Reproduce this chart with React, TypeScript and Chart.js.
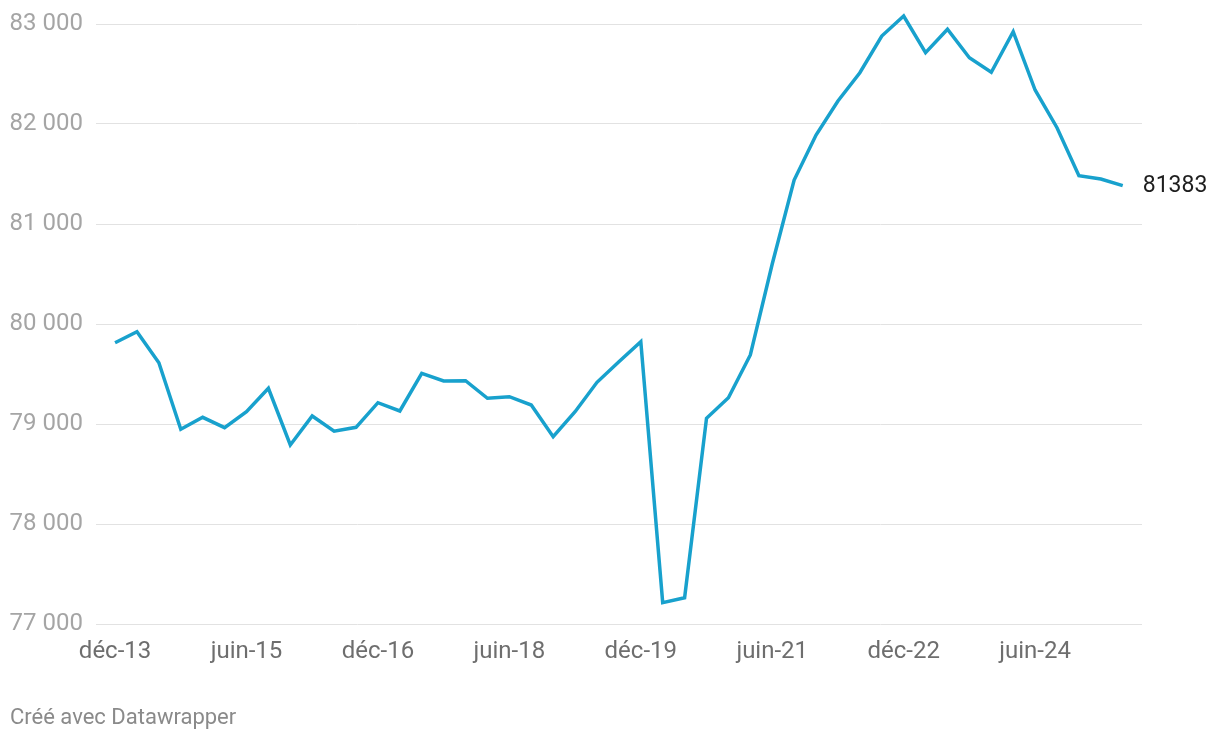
import React, { useEffect, useRef } from "react";
import { Chart, registerables } from "chart.js";

Chart.register(...registerables);

const quarters: string[] = [
  "déc-13", "mars-14", "juin-14", "sept-14",
  "déc-14", "mars-15", "juin-15", "sept-15",
  "déc-15", "mars-16", "juin-16", "sept-16",
  "déc-16", "mars-17", "juin-17", "sept-17",
  "déc-17", "mars-18", "juin-18", "sept-18",
  "déc-18", "mars-19", "juin-19", "sept-19",
  "déc-19", "mars-20", "juin-20", "sept-20",
  "déc-20", "mars-21", "juin-21", "sept-21",
  "déc-21", "mars-22", "juin-22", "sept-22",
  "déc-22", "mars-23", "juin-23", "sept-23",
  "déc-23", "mars-24", "juin-24", "sept-24",
  "déc-24", "mars-25", "juin-25",
];

const values: number[] = [
  79813, 79923, 79613, 78947,
  79067, 78963, 79123, 79357,
  78790, 79080, 78928, 78967,
  79213, 79130, 79507, 79430,
  79433, 79257, 79273, 79190,
  78873, 79123, 79417, 79623,
  79823, 77213, 77263, 79057,
  79263, 79690, 80600, 81440,
  81890, 82230, 82513, 82880,
  83080, 82713, 82947, 82663,
  82517, 82923, 82340, 81963,
  81483, 81450, 81383,
];

const xTickLabels: string[] = ["déc-13", "juin-15", "déc-16", "juin-18", "déc-19", "juin-21", "déc-22", "juin-24"];
const yTicks: number[] = [77000, 78000, 79000, 80000, 81000, 82000, 83000];
const lastLabel = "81383";

const LINE_COLOR = "#18a1cd";

const fmt = (v: number) => String(v).replace(/\B(?=(\d{3})+(?!\d))/g, " ");

export default function App() {
  const ref = useRef<HTMLCanvasElement | null>(null);

  useEffect(() => {
    if (!ref.current) return;
    Chart.defaults.font.family = "Roboto";
    const lastLabelPlugin = {
      id: "lastLabel",
      afterDatasetsDraw(chart: any) {
        const meta = chart.getDatasetMeta(0);
        const pt = meta.data[meta.data.length - 1];
        if (!pt) return;
        const ctx = chart.ctx;
        ctx.save();
        ctx.font = "23px Roboto";
        ctx.fillStyle = "#1e1e1e";
        ctx.textAlign = "left";
        ctx.textBaseline = "middle";
        ctx.fillText(lastLabel, pt.x + 20, pt.y + 1);
        ctx.restore();
      },
    };
    const tickIdx = xTickLabels.map((l) => quarters.indexOf(l));
    const chart = new Chart(ref.current, {
      type: "line",
      data: {
        datasets: [
          {
            data: values.map((v, i) => ({ x: i, y: v })),
            borderColor: LINE_COLOR,
            borderWidth: 3.5,
            pointRadius: 0,
            pointHoverRadius: 0,
            tension: 0,
            clip: false as any,
            borderJoinStyle: "miter",
          },
        ],
      },
      options: {
        animation: false,
        responsive: false,
        maintainAspectRatio: false,
        layout: { padding: { left: 0, right: 78, top: 24, bottom: 0 } },
        plugins: { legend: { display: false }, tooltip: { enabled: false } },
        scales: {
          x: {
            type: "linear",
            min: -0.87,
            max: 46.88,
            grid: { display: false },
            border: { display: false },
            afterBuildTicks: (scale: any) => {
              scale.ticks = tickIdx.map((v) => ({ value: v }));
            },
            afterFit: (scale: any) => {
              scale.height = 116;
              scale.paddingLeft = 0;
              scale.paddingRight = 0;
            },
            ticks: {
              autoSkip: false,
              maxRotation: 0,
              padding: 6,
              color: "#6e6e6e",
              font: { size: 24 },
              callback: (v: any) => quarters[Number(v)] ?? "",
            },
          },
          y: {
            min: 77000,
            max: 83000,
            afterBuildTicks: (scale: any) => {
              scale.ticks = yTicks.map((v) => ({ value: v }));
            },
            afterFit: (scale: any) => {
              scale.width = 96;
              scale.paddingTop = 0;
              scale.paddingBottom = 0;
            },
            grid: { color: "#e2e2e2", lineWidth: 1, drawTicks: false },
            border: { display: false },
            ticks: {
              padding: 13,
              color: "#a5a5a5",
              font: { size: 24 },
              callback: (v: any) => fmt(Number(v)),
            },
          },
        },
      },
      plugins: [lastLabelPlugin],
    });
    return () => chart.destroy();
  }, []);

  return (
    <div style={{ position: "fixed", left: 0, top: 0, width: 1220, height: 740, background: "#fff" }}>
      <canvas ref={ref} width={1220} height={740} style={{ position: "absolute", left: 0, top: 0 }} />
      <div
        style={{
          position: "absolute",
          left: 10,
          top: 704,
          fontFamily: "Roboto",
          fontSize: 22,
          lineHeight: "26px",
          color: "#8a8a8a",
        }}
      >
        Créé avec Datawrapper
      </div>
    </div>
  );
}
